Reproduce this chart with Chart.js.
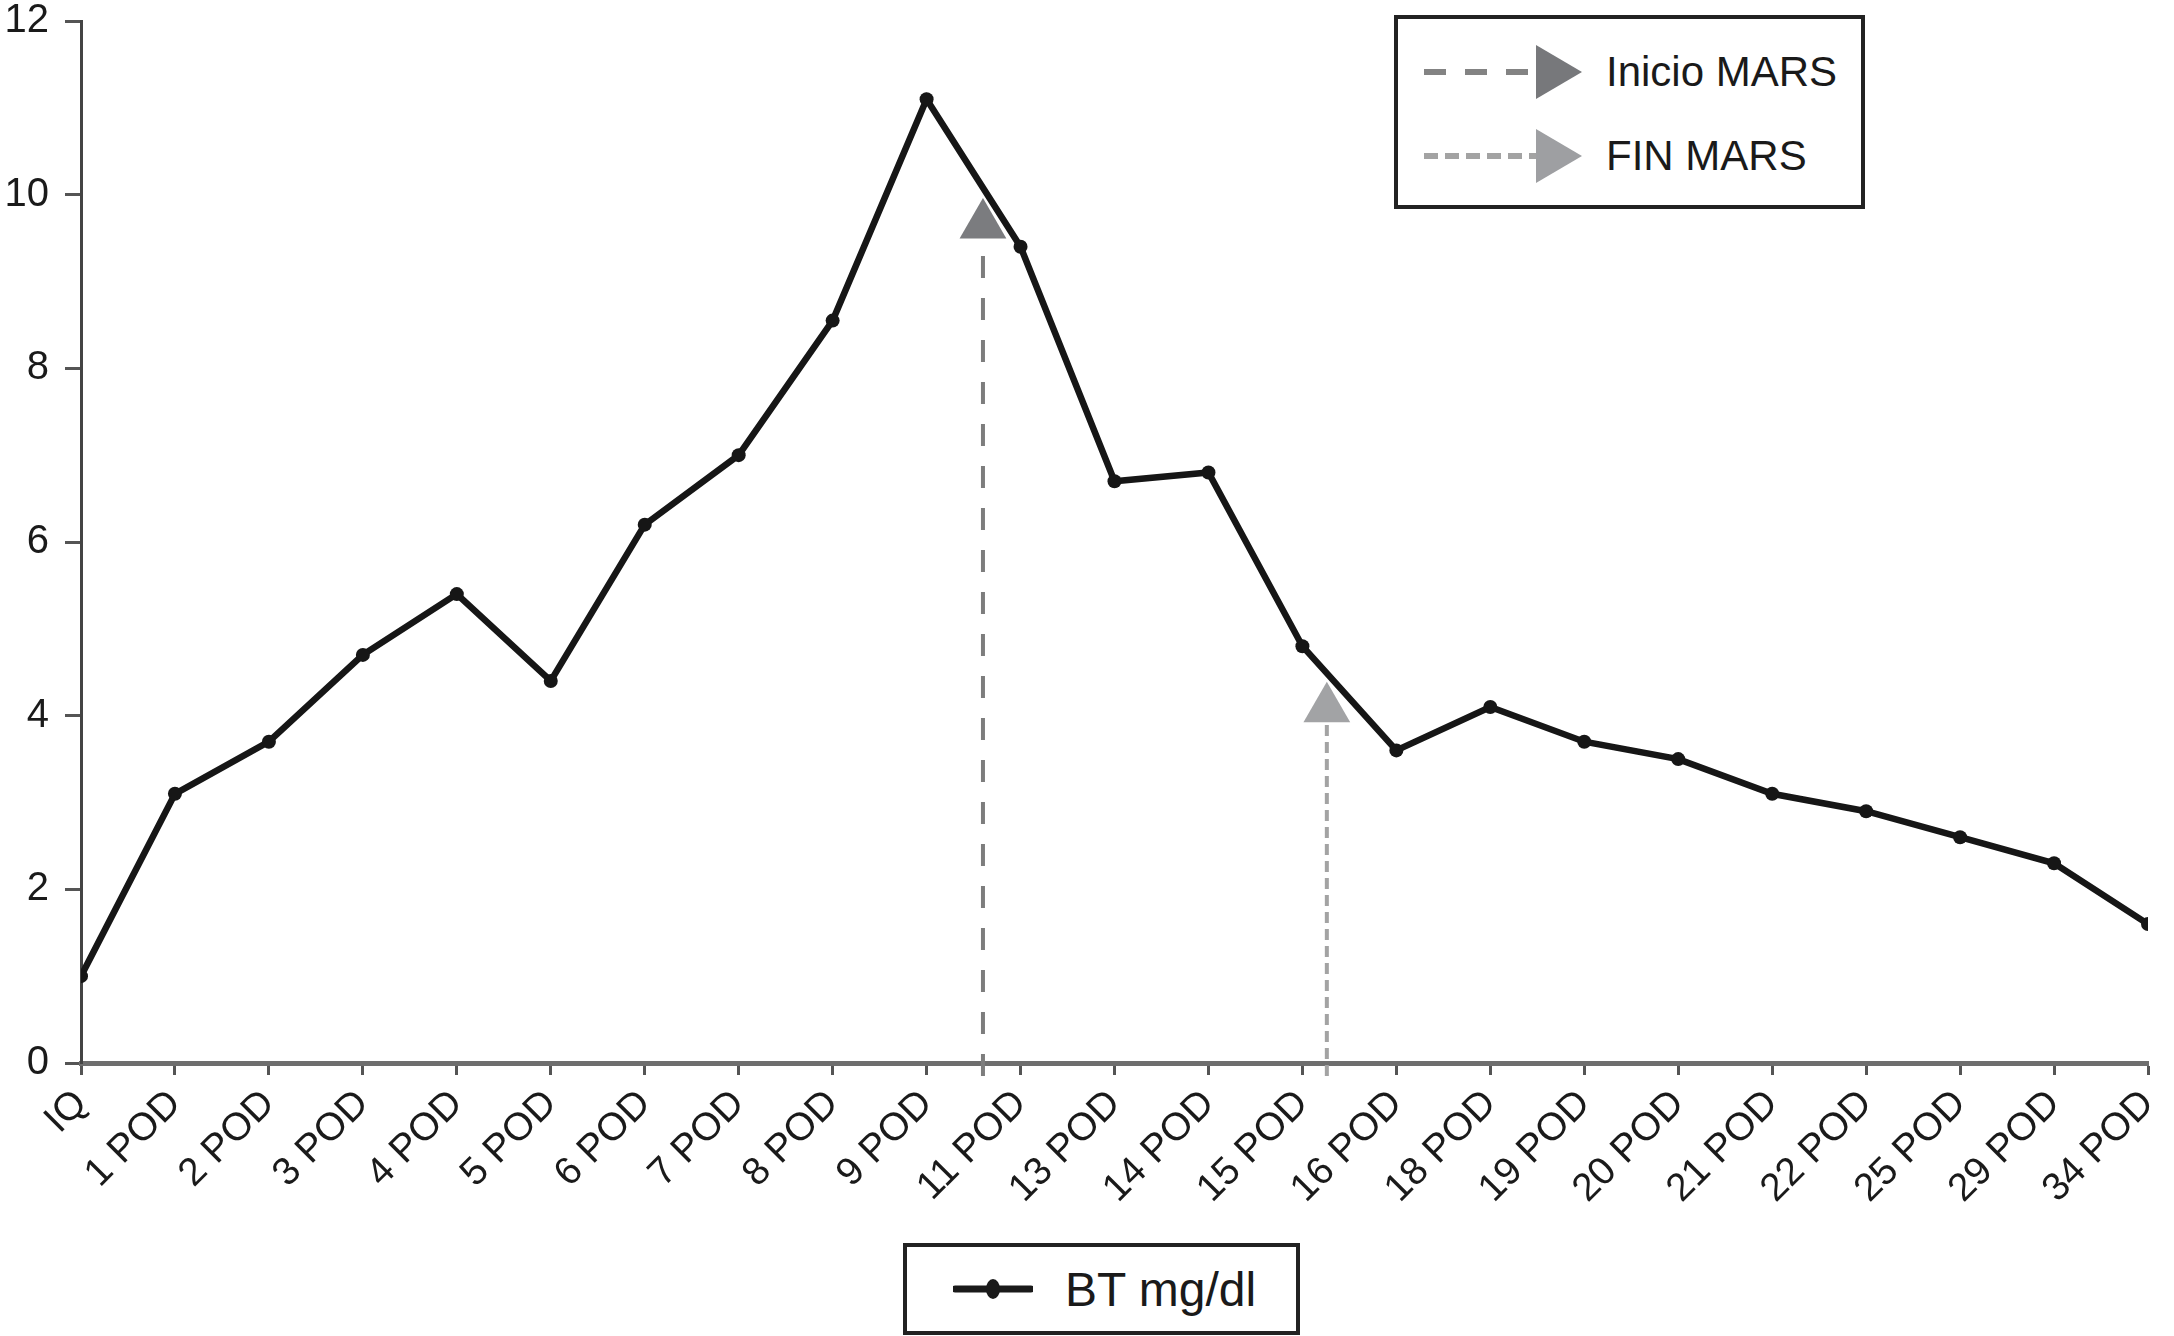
<!DOCTYPE html>
<html>
<head>
  <style>
    body {
      margin: 0;
      padding: 0;
      background: #fff;
      font-family: "Liberation Sans", Arial, sans-serif;
      overflow: hidden;
    }

    #wrap {
      position: relative;
      width: 2174px;
      height: 1336px;
    }

    #chart {
      position: absolute;
      left: 0;
      top: 0;
    }

    /* boxed legends drawn over the canvas */
    .legend-box {
      position: absolute;
      border: 4px solid #222;
      box-sizing: border-box;
      background: #fff;
    }

    .legend-row {
      position: absolute;
      display: flex;
      align-items: center;
      height: 60px;
      color: #1a1a1a;
    }

    #top-legend { left: 1394px; top: 15px; width: 471px; height: 194px; }
    #top-legend .legend-row { left: 26px; font-size: 42px; }
    #top-legend .legend-row span { margin-left: 22px; }

    #bottom-legend { left: 903px; top: 1243px; width: 397px; height: 92px; }
    #bottom-legend .legend-row { left: 46px; top: 12px; font-size: 48px; }
    #bottom-legend .legend-row span { margin-left: 32px; }
  </style>
  <script src="https://cdn.jsdelivr.net/npm/chart.js"></script>
</head>
<body>
  <div id="wrap">
    <canvas id="chart" width="2174" height="1336"></canvas>

    <div id="top-legend" class="legend-box">
      <div class="legend-row" style="top:23px;">
        <svg width="160" height="60">
          <line x1="0" y1="30" x2="112" y2="30" stroke="#838383" stroke-width="6" stroke-dasharray="22 19"/>
          <polygon points="112,3 158,30 112,57" fill="#77787b"/>
        </svg>
        <span>Inicio MARS</span>
      </div>
      <div class="legend-row" style="top:107px;">
        <svg width="160" height="60">
          <line x1="0" y1="30" x2="112" y2="30" stroke="#a3a3a3" stroke-width="6" stroke-dasharray="14 7"/>
          <polygon points="112,3 158,30 112,57" fill="#9e9fa2"/>
        </svg>
        <span>FIN MARS</span>
      </div>
    </div>

    <div id="bottom-legend" class="legend-box">
      <div class="legend-row">
        <svg width="80" height="60">
          <line x1="2" y1="30" x2="78" y2="30" stroke="#1a1a1a" stroke-width="7" stroke-linecap="round"/>
          <ellipse cx="40" cy="30" rx="7" ry="10" fill="#1a1a1a"/>
        </svg>
        <span>BT mg/dl</span>
      </div>
    </div>
  </div>

  <script>
    // Categories along the x axis (post-operative days)
    const labels = ["IQ", "1 POD", "2 POD", "3 POD", "4 POD", "5 POD", "6 POD", "7 POD", "8 POD", "9 POD",
      "11 POD", "13 POD", "14 POD", "15 POD", "16 POD", "18 POD", "19 POD", "20 POD", "21 POD",
      "22 POD", "25 POD", "29 POD", "34 POD"];

    // Total bilirubin, mg/dl
    const btValues = [1.0, 3.1, 3.7, 4.7, 5.4, 4.4, 6.2, 7.0, 8.55, 11.1, 9.4, 6.7, 6.8, 4.8, 3.6,
      4.1, 3.7, 3.5, 3.1, 2.9, 2.6, 2.3, 1.6];

    const yTicks = [0, 2, 4, 6, 8, 10, 12];

    // MARS markers: position on the category axis, stem start/end and arrow head value
    const inicioArrow = [9.6, -0.15, 9.48, 9.65];
    const finArrow = [13.26, -0.15, 3.91, 4.08];

    function stem(a) {
      return [{ x: a[0], y: a[1] }, { x: a[0], y: a[2] }];
    }

    const ctx = document.getElementById("chart").getContext("2d");
    const chart = new Chart(ctx, {
      type: "line",
      data: {
        datasets: [
          {
            label: "BT mg/dl",
            data: btValues.map((v, i) => ({ x: i, y: v })),
            borderColor: "#161616",
            backgroundColor: "#161616",
            borderWidth: 6.5,
            pointRadius: 7,
            pointBorderWidth: 0,
            pointStyle: "circle",
            tension: 0,
            order: 0,
          },
          {
            label: "Inicio MARS",
            data: stem(inicioArrow),
            borderColor: "#7d7d7d",
            borderWidth: 4,
            borderDash: [22, 20],
            pointRadius: 0,
            clip: false,
            order: 2,
          },
          {
            label: "Inicio head",
            type: "scatter",
            data: [{ x: inicioArrow[0], y: inicioArrow[3] }],
            backgroundColor: "#7b7c7f",
            pointStyle: "triangle",
            pointRadius: 27,
            pointBorderWidth: 0,
            order: 1,
          },
          {
            label: "FIN MARS",
            data: stem(finArrow),
            borderColor: "#a3a3a3",
            borderWidth: 4,
            borderDash: [11, 6],
            pointRadius: 0,
            clip: false,
            order: 2,
          },
          {
            label: "FIN head",
            type: "scatter",
            data: [{ x: finArrow[0], y: finArrow[3] }],
            backgroundColor: "#a2a3a5",
            pointStyle: "triangle",
            pointRadius: 27,
            pointBorderWidth: 0,
            order: 1,
          },
        ],
      },
      options: {
        responsive: false,
        animation: false,
        devicePixelRatio: 1,
        layout: {
          autoPadding: false,
          padding: { top: 21, right: 26, bottom: 0, left: 0 },
        },
        scales: {
          x: {
            type: "linear",
            min: 0,
            max: labels.length - 1,
            offset: false,
            afterFit: function (scale) {
              scale.height = 1336 - 1063;
              scale.paddingLeft = 0;
              scale.paddingRight = 0;
            },
            border: { color: "#6e6e6e", width: 5 },
            grid: {
              drawOnChartArea: false,
              drawTicks: true,
              tickLength: 12,
              tickColor: "#555",
              tickWidth: 3,
            },
            ticks: {
              stepSize: 1,
              autoSkip: false,
              minRotation: 45,
              maxRotation: 45,
              padding: 6,
              color: "#1a1a1a",
              font: { family: "'Liberation Sans', Arial, sans-serif", size: 39 },
              callback: function (value) {
                return Number.isInteger(value) ? labels[value] : "";
              },
            },
          },
          y: {
            type: "linear",
            min: yTicks[0],
            max: yTicks[yTicks.length - 1],
            afterFit: function (scale) {
              scale.width = 81;
              scale.paddingTop = 0;
              scale.paddingBottom = 0;
            },
            afterBuildTicks: function (scale) {
              scale.ticks = yTicks.map(v => ({ value: v }));
            },
            border: { color: "#444", width: 3 },
            grid: {
              drawOnChartArea: false,
              drawTicks: true,
              tickLength: 16,
              tickColor: "#555",
              tickWidth: 3,
            },
            ticks: {
              padding: 16,
              color: "#1a1a1a",
              font: { family: "'Liberation Sans', Arial, sans-serif", size: 40 },
            },
          },
        },
        plugins: {
          legend: { display: false },
          tooltip: { enabled: false },
        },
      },
    });
  </script>
</body>
</html>
